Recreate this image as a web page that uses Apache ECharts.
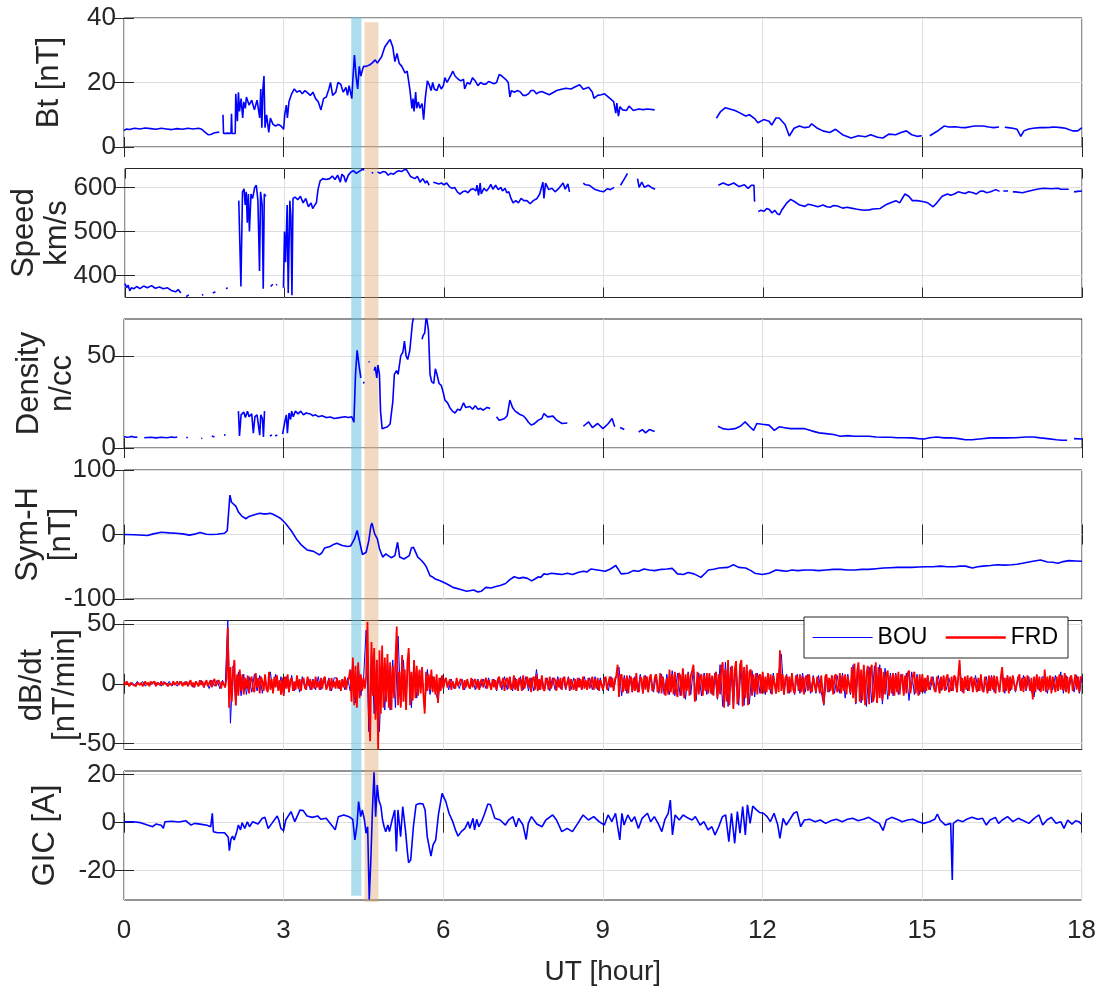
<!DOCTYPE html>
<html><head><meta charset="utf-8">
<script src="https://cdn.jsdelivr.net/npm/echarts@6/dist/echarts.min.js"></script>
<style>html,body{margin:0;padding:0;background:#fff}#c{width:1099px;height:991px}</style>
</head><body><div id="c"></div><script>
// ---------------- DATA ----------------
const xTicks = [0, 3, 6, 9, 12, 15, 18];
const btTicks = [0, 20, 40];
const speedTicks = [400, 500, 600];
const densityTicks = [0, 50];
const symhTicks = [-100, 0, 100];
const dbdtTicks = [-50, 0, 50];
const gicTicks = [-20, 0, 20];
const bandHours = [[4.27, 4.46], [4.52, 4.78]];
const legendNames = ['BOU', 'FRD'];

const bt = [[0,5.1],[0.05,5.6],[0.1,5.4],[0.2,5.8],[0.3,5.6],[0.4,5.9],[0.5,5.7],[0.6,5.5],[0.7,5.8],[0.8,5.6],[0.9,5.4],[1.0,5.7],[1.1,5.5],[1.2,5.8],[1.3,5.6],[1.4,5.8],[1.46,5.5],[1.52,4.6],[1.58,3.8],[1.63,3.9],[1.7,4.4],[1.79,4.6],[1.82,'-'],[1.86,10],[1.87,4.2],[1.95,4.3],[2.01,4.2],[2.02,10.3],[2.03,4.2],[2.09,4.2],[2.1,16.5],[2.13,8],[2.15,17],[2.17,11],[2.2,15],[2.23,9],[2.25,14],[2.28,12],[2.3,15.5],[2.35,13],[2.4,14.5],[2.45,11.5],[2.5,14.5],[2.55,9],[2.57,18],[2.59,6],[2.61,18],[2.63,22],[2.65,6],[2.68,10],[2.72,4.5],[2.75,9],[2.8,7],[2.85,6.5],[2.9,7],[2.95,6.5],[3.0,5.5],[3.02,10],[3.05,13],[3.07,9],[3.1,14],[3.15,16.5],[3.2,18],[3.25,17],[3.3,17.5],[3.35,16.5],[3.4,17.5],[3.45,16.8],[3.5,16],[3.55,17],[3.6,15],[3.65,14],[3.7,11.5],[3.75,15],[3.8,15.5],[3.85,18],[3.88,20],[3.92,16],[3.98,17],[4.02,20],[4.07,19.5],[4.12,17],[4.17,18.5],[4.2,16],[4.23,19],[4.28,15],[4.3,21],[4.33,28.5],[4.36,22],[4.39,18],[4.42,25],[4.45,22],[4.5,25],[4.55,25],[4.62,25.5],[4.66,26],[4.72,27],[4.76,26],[4.79,25.5],[4.84,28],[4.9,31],[4.96,32.5],[5.0,33.3],[5.05,31],[5.09,26.5],[5.13,29],[5.17,26],[5.22,25],[5.28,23],[5.32,23.5],[5.37,18],[5.41,12],[5.43,15],[5.45,11],[5.48,17],[5.5,12],[5.53,14],[5.56,12],[5.6,13.5],[5.63,8.5],[5.66,15],[5.7,20.5],[5.73,19.5],[5.77,17.5],[5.8,20],[5.83,18],[5.88,17.5],[5.92,19.5],[5.96,18],[6.0,19],[6.03,21.5],[6.07,20],[6.1,21],[6.15,22.5],[6.18,23.5],[6.22,22],[6.28,21],[6.33,20.5],[6.38,21],[6.4,18],[6.45,20],[6.5,19.5],[6.55,21.5],[6.6,20.5],[6.65,19],[6.7,20],[6.75,19.5],[6.8,19.5],[6.85,20.3],[6.9,20],[6.95,19.6],[7.0,20],[7.05,22.5],[7.1,22],[7.17,21],[7.22,20],[7.25,15.5],[7.28,17.5],[7.33,17],[7.4,17.5],[7.45,17],[7.5,16],[7.55,16],[7.6,16.5],[7.65,17.5],[7.7,17.5],[7.75,16.5],[7.8,17],[7.85,17.2],[7.99,16.2],[8.13,17.5],[8.2,17.8],[8.3,18.2],[8.4,18],[8.46,18.5],[8.56,19.3],[8.63,17.9],[8.73,18.5],[8.8,17],[8.83,15.1],[8.9,16],[8.97,16.2],[9.03,16.5],[9.13,15.1],[9.2,14.1],[9.24,10.5],[9.26,13.6],[9.29,9.6],[9.32,12.5],[9.37,11.5],[9.44,11.3],[9.49,12.7],[9.57,11.3],[9.67,11.8],[9.75,11.6],[9.84,11.8],[9.97,11.5],[10.0,'-'],[11.13,8.9],[11.21,11],[11.3,12.2],[11.38,11.8],[11.48,11.3],[11.58,10.5],[11.68,9.6],[11.75,10],[11.85,8.8],[11.91,7.5],[12.02,8.5],[12.12,8],[12.17,6.8],[12.25,9],[12.31,9],[12.42,7],[12.5,3.4],[12.59,5.8],[12.69,6.5],[12.79,6],[12.87,6.2],[12.92,7.2],[13.03,5.8],[13.13,5],[13.26,4.5],[13.37,5.5],[13.5,3.8],[13.66,2.8],[13.8,3.5],[13.93,3.2],[14.03,3.8],[14.16,3],[14.26,2.8],[14.37,4],[14.5,3.8],[14.6,4.5],[14.7,5],[14.8,3.8],[14.9,3.3],[14.99,3.5],[15.05,'-'],[15.14,3.5],[15.27,4.8],[15.41,6.5],[15.5,6.2],[15.61,6.3],[15.7,6.1],[15.81,6],[15.9,6.3],[15.98,6.5],[16.14,6.5],[16.25,6.2],[16.34,6],[16.44,6.2],[16.5,'-'],[16.55,6.1],[16.61,6],[16.7,5.8],[16.78,5.5],[16.85,3.3],[16.91,5],[17.0,5.6],[17.08,5.8],[17.2,6],[17.28,6],[17.4,6.1],[17.48,6.2],[17.6,6],[17.69,5.8],[17.82,5],[17.92,5],[18,6]];

const speed = [[0,382],[0.03,372],[0.06,378],[0.09,365],[0.12,372],[0.17,370],[0.22,375],[0.28,370],[0.35,376],[0.42,372],[0.5,377],[0.57,371],[0.65,374],[0.72,370],[0.8,372],[0.87,366],[0.95,363],[1.0,368],[1.05,360],[1.08,'-'],[1.15,352],[1.2,356],[1.22,'-'],[1.45,355],[1.47,357],[1.5,'-'],[1.65,360],[1.7,363],[1.72,'-'],[1.9,370],[1.93,372],[1.96,'-'],[2.14,570],[2.18,375],[2.21,590],[2.24,597],[2.26,560],[2.28,590],[2.3,520],[2.32,585],[2.34,500],[2.37,585],[2.4,575],[2.44,600],[2.47,605],[2.5,570],[2.53,410],[2.55,590],[2.58,560],[2.6,370],[2.62,585],[2.65,580],[2.67,'-'],[2.74,375],[2.78,380],[2.8,'-'],[2.84,378],[2.86,380],[2.9,'-'],[2.98,372],[3.0,500],[3.02,430],[3.05,560],[3.07,360],[3.1,570],[3.12,535],[3.14,355],[3.16,575],[3.2,578],[3.25,572],[3.3,580],[3.35,565],[3.4,575],[3.45,556],[3.5,565],[3.53,552],[3.57,560],[3.6,565],[3.63,595],[3.67,615],[3.72,620],[3.78,618],[3.85,620],[3.9,626],[3.95,618],[4.0,628],[4.05,612],[4.08,630],[4.12,625],[4.15,612],[4.2,628],[4.25,635],[4.3,638],[4.35,632],[4.4,636],[4.45,640],[4.5,640],[4.53,'-'],[4.64,633],[4.67,634],[4.7,'-'],[4.75,635],[4.8,632],[4.85,636],[4.9,635],[4.95,628],[5.0,632],[5.05,630],[5.1,635],[5.15,638],[5.2,636],[5.25,640],[5.29,641],[5.33,633],[5.37,625],[5.4,625],[5.45,620],[5.5,625],[5.55,612],[5.6,620],[5.65,610],[5.68,615],[5.72,605],[5.75,'-'],[5.8,612],[5.85,610],[5.9,608],[5.95,610],[6.0,606],[6.05,610],[6.1,602],[6.15,598],[6.2,600],[6.25,590],[6.3,585],[6.35,590],[6.4,592],[6.45,588],[6.5,595],[6.55,597],[6.6,592],[6.62,605],[6.65,582],[6.68,610],[6.7,585],[6.75,598],[6.8,592],[6.85,600],[6.88,607],[6.92,596],[6.97,605],[7.02,595],[7.07,600],[7.1,592],[7.15,598],[7.18,588],[7.22,590],[7.26,575],[7.3,565],[7.35,570],[7.4,565],[7.45,575],[7.5,570],[7.56,570],[7.62,563],[7.68,570],[7.75,575],[7.8,585],[7.86,612],[7.88,575],[7.91,610],[7.97,595],[8.03,598],[8.09,590],[8.16,598],[8.24,610],[8.28,596],[8.33,608],[8.36,590],[8.4,'-'],[8.62,610],[8.66,606],[8.73,605],[8.83,596],[8.93,592],[9.0,590],[9.07,597],[9.13,595],[9.2,600],[9.25,'-'],[9.32,605],[9.37,615],[9.42,625],[9.45,632],[9.48,'-'],[9.64,620],[9.67,600],[9.72,612],[9.77,600],[9.84,605],[9.9,600],[9.97,596],[10.0,'-'],[11.16,605],[11.25,610],[11.35,605],[11.45,610],[11.55,602],[11.65,606],[11.72,598],[11.78,605],[11.83,605],[11.84,570],[11.85,568],[11.87,'-'],[11.91,545],[11.96,548],[12.02,546],[12.07,552],[12.12,550],[12.17,542],[12.22,548],[12.27,540],[12.31,538],[12.35,548],[12.39,555],[12.45,565],[12.52,573],[12.59,568],[12.69,560],[12.79,557],[12.85,562],[12.92,560],[13.03,556],[13.13,560],[13.2,556],[13.26,555],[13.33,559],[13.4,558],[13.5,553],[13.58,555],[13.66,553],[13.75,551],[13.8,550],[13.9,548],[14.0,549],[14.07,551],[14.2,552],[14.3,560],[14.4,565],[14.5,570],[14.57,565],[14.67,585],[14.74,580],[14.81,570],[14.9,570],[15.0,568],[15.1,565],[15.2,556],[15.27,565],[15.37,580],[15.47,585],[15.53,582],[15.6,585],[15.67,590],[15.74,588],[15.8,586],[15.87,590],[15.95,588],[16.01,585],[16.08,591],[16.14,592],[16.21,588],[16.28,590],[16.38,595],[16.45,591],[16.48,'-'],[16.52,592],[16.61,592],[16.65,'-'],[16.7,590],[16.75,590],[16.88,588],[16.95,590],[17.01,592],[17.15,596],[17.28,598],[17.42,597],[17.55,598],[17.6,596],[17.69,596],[17.75,596],[17.8,'-'],[17.85,590],[17.92,591],[18.0,592]];

const density = [[0,6.2],[0.05,5.8],[0.1,6.0],[0.15,6.3],[0.2,5.8],[0.25,5.9],[0.28,'-'],[0.38,5.6],[0.5,5.8],[0.6,5.5],[0.7,5.8],[0.8,5.6],[0.9,6.0],[0.95,5.7],[1.0,6.0],[1.05,'-'],[1.17,5.8],[1.2,5.6],[1.23,'-'],[1.45,5.1],[1.47,5.3],[1.5,'-'],[1.65,6.5],[1.7,6.0],[1.73,'-'],[1.88,7],[1.91,7.2],[1.94,'-'],[2.15,20],[2.17,6.5],[2.2,18],[2.25,19.5],[2.28,16.5],[2.32,20],[2.35,17],[2.4,18.5],[2.43,8],[2.46,17],[2.5,18],[2.55,7],[2.57,18],[2.6,16],[2.62,6],[2.64,20],[2.66,'-'],[2.74,6.5],[2.78,7],[2.8,'-'],[2.84,6.5],[2.88,7],[2.9,'-'],[2.98,7.5],[3.0,8],[3.02,14],[3.05,18],[3.07,8],[3.1,19],[3.13,15.5],[3.15,20],[3.18,17],[3.22,20],[3.27,18.5],[3.32,20],[3.37,18],[3.42,19],[3.5,18.5],[3.55,17.5],[3.6,18],[3.65,17],[3.72,17.5],[3.8,16.5],[3.88,16.8],[3.95,16],[4.05,16.5],[4.15,17],[4.22,16.5],[4.28,17],[4.32,14],[4.35,40],[4.38,53],[4.42,44],[4.45,38],[4.47,'-'],[4.5,36],[4.51,35],[4.52,'-'],[4.6,47],[4.61,46.5],[4.62,'-'],[4.7,42],[4.72,44],[4.75,38],[4.77,45],[4.8,40],[4.82,20],[4.85,10.5],[4.9,11],[4.95,11.5],[5.0,13],[5.05,25],[5.08,40],[5.12,42],[5.15,40],[5.2,50],[5.24,52],[5.27,58],[5.3,50],[5.33,48],[5.37,53],[5.42,68],[5.45,72],[5.5,78],[5.55,'-'],[5.6,59],[5.62,61],[5.65,62.5],[5.68,72],[5.72,64],[5.75,40],[5.78,36],[5.82,35],[5.85,43],[5.88,40],[5.92,35],[5.96,34],[6.0,30],[6.03,26],[6.08,24.5],[6.12,22],[6.17,20],[6.22,19],[6.27,21],[6.32,20.5],[6.38,24.5],[6.42,22],[6.5,22.5],[6.55,21],[6.6,23],[6.65,21],[6.7,21.5],[6.75,20.5],[6.82,22],[6.88,21.5],[6.91,'-'],[7.0,17],[7.05,15],[7.1,15.5],[7.15,16],[7.2,17.5],[7.25,26],[7.3,22],[7.35,20],[7.4,19],[7.45,18],[7.5,17.5],[7.55,16],[7.6,14],[7.65,12.5],[7.7,13],[7.78,15],[7.85,16],[7.89,18.7],[7.96,16.9],[8.06,17.3],[8.13,15.1],[8.23,13.3],[8.33,13.6],[8.36,'-'],[8.63,11.8],[8.73,14.2],[8.8,11.1],[8.9,13.3],[9.0,10.5],[9.1,13.3],[9.17,16],[9.22,11.5],[9.26,'-'],[9.32,11.1],[9.4,10],[9.43,'-'],[9.67,8.7],[9.74,10],[9.8,8.2],[9.87,10],[9.97,8.9],[10.0,'-'],[11.16,11.8],[11.25,10.5],[11.35,10],[11.48,10.5],[11.58,11.8],[11.67,14.2],[11.75,11.8],[11.83,9.6],[11.89,13.3],[11.99,12.9],[12.12,12.4],[12.22,9.6],[12.31,11.5],[12.39,11.1],[12.52,10.5],[12.65,10.5],[12.79,10.5],[12.92,9.3],[13.06,8.2],[13.19,7.8],[13.33,7.3],[13.46,6.4],[13.6,6.7],[13.72,6.4],[13.87,6.4],[14.0,6.4],[14.13,6.0],[14.27,5.8],[14.4,5.8],[14.53,5.6],[14.67,5.6],[14.8,5.5],[14.93,5.1],[15.03,4.9],[15.14,5.6],[15.27,6.0],[15.41,5.5],[15.54,5.6],[15.68,5.1],[15.81,4.5],[15.94,4.5],[16.07,4.9],[16.28,5.5],[16.41,5.6],[16.55,5.5],[16.75,5.6],[16.95,6],[17.08,6],[17.22,5.5],[17.35,5.1],[17.52,4.5],[17.62,4.2],[17.72,4.2],[17.76,'-'],[17.85,5.1],[18.0,4.9]];

const symh = [[0,0],[0.2,-0.5],[0.44,-1.5],[0.55,1],[0.7,3.6],[0.85,2.5],[0.97,2],[1.1,1],[1.23,-1],[1.35,1],[1.43,3],[1.55,0.5],[1.63,0],[1.75,0.5],[1.89,2],[1.94,6],[1.99,61],[2.02,50],[2.05,53],[2.1,44],[2.15,35],[2.22,28],[2.29,24.4],[2.35,28],[2.42,30],[2.55,33],[2.62,32],[2.68,32],[2.75,33],[2.81,31],[2.88,28],[2.95,24.4],[3.04,16.6],[3.14,6.2],[3.24,-6.8],[3.34,-17],[3.44,-24],[3.5,-25],[3.57,-26.5],[3.67,-31.7],[3.72,-28],[3.77,-20.8],[3.87,-18.7],[3.95,-15],[4.0,-13.5],[4.1,-17],[4.2,-18.7],[4.26,-17.7],[4.33,-6.8],[4.38,6.2],[4.43,-12],[4.48,-31],[4.55,-27.5],[4.6,-9.4],[4.64,14],[4.66,17.7],[4.71,1],[4.76,-6.8],[4.8,-22],[4.86,-35],[4.92,-30],[4.97,-33],[5.02,-36],[5.09,-32.7],[5.14,-12],[5.18,-35],[5.26,-38],[5.36,-32.7],[5.4,-20.8],[5.44,-20],[5.52,-35],[5.58,-39.5],[5.63,-44],[5.68,-50],[5.75,-64],[5.8,-66],[5.85,-69],[5.95,-72],[6.05,-76],[6.12,-79],[6.18,-82],[6.31,-85],[6.44,-88],[6.57,-86],[6.65,-89],[6.71,-88],[6.8,-82],[6.9,-83],[6.97,-81],[7.07,-79],[7.17,-76],[7.25,-70],[7.33,-65.5],[7.42,-68],[7.5,-66.5],[7.58,-68],[7.66,-72],[7.72,-69],[7.79,-65.5],[7.83,-66.5],[7.89,-61],[7.95,-62],[8.03,-60],[8.13,-61],[8.23,-62],[8.33,-60],[8.43,-62],[8.53,-59],[8.63,-57],[8.7,-58],[8.77,-53.5],[8.9,-55],[9.04,-57],[9.14,-53.5],[9.24,-48],[9.28,-53],[9.34,-61],[9.47,-60],[9.57,-56],[9.67,-57],[9.77,-53.5],[9.87,-55],[9.97,-56],[10.1,-54],[10.2,-53.5],[10.3,-52.5],[10.4,-61],[10.51,-62],[10.6,-59],[10.71,-61],[10.84,-66.5],[10.92,-60],[10.98,-55],[11.08,-54],[11.18,-52],[11.35,-51],[11.45,-47],[11.55,-51],[11.68,-52],[11.78,-56],[11.85,-60],[11.99,-62],[12.12,-60],[12.25,-55],[12.35,-56],[12.45,-57],[12.55,-55],[12.66,-56],[12.8,-55],[12.92,-55],[13.05,-56],[13.19,-55],[13.33,-54],[13.46,-54],[13.6,-55],[13.73,-55],[13.86,-54],[13.99,-54],[14.13,-53],[14.27,-52],[14.4,-51.5],[14.53,-51],[14.67,-51],[14.8,-51],[14.93,-50.5],[15.07,-50],[15.2,-50],[15.34,-49],[15.47,-50],[15.61,-50],[15.71,-49],[15.81,-49],[15.94,-52],[16.04,-50],[16.14,-49],[16.28,-48],[16.41,-47],[16.55,-47.5],[16.68,-47],[16.78,-46],[16.88,-44.7],[16.98,-43],[17.08,-41.5],[17.22,-39.5],[17.35,-42.6],[17.45,-43],[17.55,-44.7],[17.65,-42],[17.75,-40.5],[17.88,-41],[18.0,-41.5]];

// dB/dt: BOU sampled every 0.05 h, FRD every 0.025 h (one row per hour)
const bouStep = 0.05;
const bouDbdt = [
-1,2,-2,1,-1,2,-1,2,-2,1,-1,2,-2,1,-2,2,-1,2,-2,1,
-2,2,-1,2,-2,1,-3,2,-2,3,-3,2,-4,3,-2,3,-4,3,-3,53,
-33,15,-18,10,-10,8,-9,6,-7,8,-6,7,-8,5,-6,10,-7,8,-5,6,
-10,6,-7,7,-6,4,-7,6,-4,5,-5,4,-5,6,-5,5,-4,5,-6,5,
5,-4,4,-5,5,-6,18,-16,15,-10,4,45,-40,30,-25,20,-40,25,-22,20,
-22,20,-20,40,-18,20,-16,25,-20,18,-12,10,10,-20,12,-9,6,-7,-14,5,
-4,5,-5,4,-4,3,-4,4,-5,3,-4,4,-5,4,-3,4,-4,5,-3,4,
-6,5,-5,6,-5,5,-6,5,-6,6,-5,6,-6,5,-6,12,-5,6,-6,5,
-6,5,-5,6,-4,5,-5,6,-5,5,-6,5,-5,6,-4,5,-5,6,-5,5,
-6,5,-6,6,-5,6,14,-10,7,-8,7,-7,6,-7,8,-8,7,-7,6,-7,
7,-8,8,-9,8,-9,11,-10,9,-10,12,-13,10,-9,14,-14,9,-10,9,-9,
8,-9,9,-13,16,-19,18,-19,14,-20,17,-18,19,-18,15,-17,11,-11,9,-8,
9,-9,8,-8,9,-8,9,25,-9,8,-8,7,-9,8,-8,9,-7,8,-8,7,
-8,7,-7,-18,6,-7,7,-8,7,-8,9,-12,8,-9,16,-17,16,-16,15,-19,
14,-16,15,-16,16,-17,13,-13,9,-10,9,-9,8,-9,9,-14,10,-9,8,-9,
7,-8,7,-5,6,-6,7,-6,6,-5,5,-6,6,-7,17,-7,6,-6,5,-6,
7,-6,6,-7,6,-6,7,-7,6,-7,12,-8,7,-6,6,-7,6,-6,7,-6,
6,-7,-11,7,-6,6,5,-8,6,-5,7,-6,10,-8,7,-6,6,-7,7,-8,
6];
const frdStep = 0.025;
const frdDbdt = [
1,-1,2,0,-2,1,2,-1,0,-2,1,2,-1,1,-2,0,2,-1,1,-2,2,0,-1,2,-2,1,0,-1,2,-1,-2,1,2,-2,0,1,-1,2,-1,0,
2,-1,0,2,-2,1,-1,2,-2,1,3,-2,1,-3,2,0,-2,3,-1,2,-3,1,3,-2,-1,3,-3,2,4,-2,-3,3,1,-4,2,3,-3,4,47,-20,
14,-15,10,20,-18,8,-10,12,-6,8,-9,5,-4,7,-8,3,6,-5,-7,9,-3,5,-8,6,2,-6,8,-4,-7,10,-5,4,-8,6,-3,7,-6,3,-9,5,
-10,6,-4,8,-7,3,5,-6,2,-5,7,-4,4,-6,3,5,-3,-5,6,-2,4,-5,3,-4,6,-3,2,-5,5,-4,3,6,-5,-2,4,-6,5,-3,2,-4,
5,-4,3,-6,4,-3,6,-5,2,5,12,-15,22,-18,15,-20,18,-12,8,-6,5,-4,6,52,-20,-48,35,-10,30,-30,20,-55,28,-25,32,-20,22,-15,25,-20,
18,-22,15,-12,20,48,-18,10,-20,24,-15,12,-22,18,30,-18,10,-14,20,-12,15,-10,12,-8,14,-9,-25,10,-6,8,-5,12,-7,6,-9,8,-16,5,-6,7,
-4,3,5,-3,-2,4,-5,2,3,-4,5,-2,-3,4,2,-5,3,-3,4,-2,-4,5,-3,2,4,-4,3,-5,2,4,-3,-2,5,-4,3,2,-5,4,-3,3,
-5,4,6,-3,-4,5,-6,3,5,-4,6,-5,-3,7,-5,4,-6,5,3,-6,7,-4,-5,6,-3,5,-7,4,6,-5,8,-6,4,-5,7,-4,-6,5,3,-5,
6,-4,-5,5,3,-6,4,-3,5,-5,4,6,-4,-3,5,-6,4,3,-5,4,-6,5,-3,4,-5,6,-4,3,-5,5,-4,-3,6,-5,4,-4,5,-6,3,4,
-5,4,6,-5,-4,6,-3,5,-6,4,7,16,-11,6,8,-7,5,-6,7,-8,4,6,-7,5,-6,9,-5,-7,6,4,-8,7,-5,6,-7,5,8,-6,-4,6,
8,-7,-5,9,-8,6,7,-10,5,-9,12,-7,8,-9,10,-6,-11,9,7,-10,13,-12,8,-6,9,-10,7,11,16,-15,-8,10,-9,6,8,-10,7,-6,9,-8,
9,-8,7,-10,6,10,-12,8,-9,14,18,-20,12,-15,20,-18,9,15,-21,12,19,-17,-10,16,20,-19,14,-12,16,-18,10,12,-10,8,-7,9,-9,6,8,-8,
10,-8,6,-7,9,-5,8,-9,7,6,-8,9,-7,28,-6,8,-9,5,7,-8,6,-7,9,-5,-8,7,5,-6,8,-7,6,-9,5,7,-6,8,-5,-7,6,5,
-7,6,5,-8,7,-6,-17,6,8,-7,5,-6,7,-9,6,8,-7,-5,9,-8,7,-6,8,-9,6,7,-8,14,-12,17,-16,10,18,-15,12,-14,16,-18,9,15,
-17,12,16,-15,-10,18,-16,14,-12,13,-14,10,-9,8,11,-10,7,-8,9,-10,8,-7,10,-9,6,8,-10,7,-8,9,11,-8,-9,7,10,-8,6,-10,8,-7,
8,-7,5,-6,7,-5,-6,6,7,-5,-7,6,5,-8,6,-5,7,-6,5,8,-7,-5,6,-6,7,5,-7,6,20,-6,5,-8,6,-5,7,-6,4,6,-7,5,
6,-7,5,-6,8,-5,-7,6,5,-8,7,-6,6,-5,7,-8,6,5,-7,6,14,-7,5,-6,7,-8,6,-5,7,6,-6,-7,5,8,-6,5,-7,6,-5,7,
7,-6,5,-13,6,-7,8,-5,6,-7,5,-6,12,-7,6,-5,7,-8,6,5,-7,6,-6,8,-5,7,-6,9,-7,6,-8,5,7,-6,-7,8,-5,6,-7,6,
5];

const gic = [[0,0.4],[0.17,0.4],[0.31,0],[0.44,-1],[0.54,-1.7],[0.6,-0.6],[0.7,-1.1],[0.74,-2.4],[0.77,0.4],[0.9,0.6],[1.03,0.3],[1.16,0.8],[1.26,-1],[1.33,-0.3],[1.43,-0.6],[1.56,-1.1],[1.63,-1.7],[1.66,3.9],[1.68,-3.75],[1.76,-4.2],[1.89,-4.2],[1.96,-6.1],[1.98,-11.7],[2.01,-7],[2.04,-5.6],[2.07,-7.2],[2.12,-3.75],[2.15,-1],[2.19,-3],[2.22,0],[2.27,-2.4],[2.32,0.4],[2.36,-1.7],[2.42,0.4],[2.52,-0.6],[2.6,1.8],[2.65,2.2],[2.71,-2.4],[2.78,-0.3],[2.88,2.8],[2.91,1.1],[2.95,-2.4],[3.0,-3.3],[3.04,1.1],[3.14,4.6],[3.21,0.4],[3.31,5.3],[3.37,5],[3.44,2.8],[3.54,2.2],[3.64,2.8],[3.7,1.4],[3.8,1.8],[3.9,-1],[3.97,-3],[4.03,2.5],[4.13,3.2],[4.23,2.5],[4.3,1.4],[4.34,-7.2],[4.38,-1],[4.41,8.75],[4.45,2.5],[4.48,5.3],[4.52,1.1],[4.55,-4.4],[4.58,-1.7],[4.61,-32],[4.64,-15.5],[4.67,5.3],[4.7,21],[4.73,2.5],[4.76,15.7],[4.79,9.4],[4.83,6.7],[4.86,1.1],[4.89,-1.7],[4.92,-3.75],[4.96,-1],[4.99,-3.75],[5.04,1.1],[5.09,5.3],[5.12,-12],[5.15,5.3],[5.2,-5.8],[5.24,6.7],[5.29,-3],[5.33,-12.8],[5.35,-16.7],[5.39,-15.5],[5.44,-1.7],[5.49,7.4],[5.55,8],[5.62,7.8],[5.66,5.3],[5.7,-5.8],[5.77,-13.9],[5.81,-9.3],[5.86,-7.2],[5.91,3.2],[5.98,12.2],[6.05,8.75],[6.11,3.9],[6.18,0.4],[6.23,-3],[6.28,-5.6],[6.34,-3.75],[6.41,-2.4],[6.47,0.4],[6.5,-2.4],[6.56,1.8],[6.59,-3],[6.63,1.4],[6.67,-1.7],[6.72,0.4],[6.77,3.2],[6.84,7.8],[6.89,7.4],[6.97,1.8],[7.07,1.1],[7.17,-1],[7.23,1.1],[7.31,2.5],[7.37,-1.7],[7.42,1.8],[7.5,-1],[7.56,-7],[7.6,-0.3],[7.66,2.5],[7.76,-0.6],[7.86,-1.7],[7.93,1.1],[8.06,3.2],[8.13,1.1],[8.23,-3.75],[8.33,-2.4],[8.43,-3.75],[8.53,-0.3],[8.63,3.2],[8.73,1.1],[8.83,2.5],[8.93,0.4],[9.03,-1],[9.1,3.2],[9.17,0.4],[9.24,3.9],[9.29,-3],[9.32,-7.2],[9.36,3.9],[9.4,-1],[9.47,3.2],[9.54,0.4],[9.6,2.5],[9.67,-2.4],[9.74,1.8],[9.84,3.9],[9.9,0.4],[9.97,2.5],[10.04,-0.3],[10.11,-3.75],[10.17,1.4],[10.23,3.9],[10.27,9.4],[10.31,-5.1],[10.36,3.2],[10.44,1.1],[10.51,3.2],[10.61,1.8],[10.68,1.1],[10.74,2.5],[10.83,-1],[10.9,0.4],[10.98,-3],[11.05,-1.7],[11.11,-5.1],[11.18,-1.7],[11.25,2.5],[11.31,3.2],[11.37,-7.9],[11.42,3.9],[11.48,-8.6],[11.53,4.6],[11.58,-4.4],[11.63,6.7],[11.68,-5.1],[11.72,7.4],[11.77,-0.3],[11.82,6.9],[11.89,5.3],[11.95,4.2],[12.02,3.9],[12.09,2.5],[12.15,0.4],[12.22,3.9],[12.29,-1],[12.33,-6.5],[12.39,1.8],[12.45,-1],[12.52,1.4],[12.59,3.9],[12.65,4.6],[12.72,-1.7],[12.79,1.1],[12.89,1.4],[12.99,0.4],[13.09,1.1],[13.19,-0.3],[13.29,0.8],[13.39,1.4],[13.5,0.4],[13.6,1.4],[13.7,1.8],[13.8,0.8],[13.9,1.4],[14.0,2.2],[14.1,0.8],[14.2,-0.3],[14.27,-3.3],[14.33,1.1],[14.43,2.2],[14.53,1.4],[14.63,0.4],[14.73,1.1],[14.83,1.4],[14.93,0.4],[15.03,-0.3],[15.14,0.4],[15.24,1.4],[15.29,3.6],[15.34,1.1],[15.44,-1],[15.54,-0.3],[15.57,-23.9],[15.59,-0.3],[15.67,1.1],[15.77,0.4],[15.84,1.4],[15.94,2.2],[16.05,1.4],[16.14,1.8],[16.21,-1],[16.28,1.1],[16.38,2.2],[16.44,-0.3],[16.51,1.1],[16.61,2.5],[16.71,0.4],[16.81,1.8],[16.91,0.8],[17.01,-0.3],[17.11,1.8],[17.2,3.2],[17.27,-1],[17.35,1.1],[17.43,2.2],[17.52,-0.3],[17.61,0.4],[17.67,-2.4],[17.74,1.1],[17.82,-0.6],[17.89,0.8],[17.95,0.4],[18.0,-0.6]];

// ---------------- LAYOUT / STYLE ----------------
const FONT = "'Liberation Sans', Arial, Helvetica, sans-serif";
const TXT = '#262626';
const LEFT = 124, RIGHT = 17, PH = 129;
const TOPS = [18, 168.5, 319, 470, 620.5, 771];
const panels = [
  {name: 'Bt [nT]',          min: 0,     max: 40,  ticks: btTicks,      nameGap: 58},
  {name: 'Speed\nkm/s',      min: 350,   max: 643, ticks: speedTicks,   nameGap: 51},
  {name: 'Density\nn/cc',    min: 0,     max: 70,  ticks: densityTicks, nameGap: 45},
  {name: 'Sym-H\n[nT]',      min: -100,  max: 100, ticks: symhTicks,    nameGap: 46},
  {name: 'dB/dt\n[nT/min]',  min: -55,   max: 53,  ticks: dbdtTicks,    nameGap: 42},
  {name: 'GIC [A]',          min: -32.2, max: 21.5,ticks: gicTicks,     nameGap: 62}
];

const grids = [], xAxes = [], yAxes = [];
const tickStyle = {show: true, inside: true, length: 10, lineStyle: {color: TXT, width: 1}};
panels.forEach((p, i) => {
  const last = i === panels.length - 1;
  grids.push({left: LEFT, right: RIGHT, top: TOPS[i], height: PH, show: true,
    borderColor: TXT, borderWidth: 1, backgroundColor: '#fff'});
  xAxes.push({type: 'value', gridIndex: i, min: xTicks[0], max: xTicks[xTicks.length - 1], interval: 3,
    position: 'bottom', axisLine: {show: false}, axisTick: tickStyle,
    axisLabel: {show: last, fontSize: 26, color: TXT, margin: 18, fontFamily: FONT},
    splitLine: {show: true, lineStyle: {color: '#dedede', width: 1}},
    name: last ? 'UT [hour]' : '', nameLocation: 'middle', nameGap: 58, nameMoveOverlap: false,
    nameTextStyle: {fontSize: 28, color: TXT, fontFamily: FONT}});
  xAxes.push({type: 'value', gridIndex: i, min: xTicks[0], max: xTicks[xTicks.length - 1], interval: 3,
    position: 'top', axisLine: {show: false}, axisTick: tickStyle,
    axisLabel: {show: false}, splitLine: {show: false}});
  yAxes.push({type: 'value', gridIndex: i, min: p.min, max: p.max, position: 'left',
    axisLine: {show: false},
    axisTick: Object.assign({}, tickStyle, {customValues: p.ticks}),
    axisLabel: {customValues: p.ticks, fontSize: 26, color: TXT, margin: 8, fontFamily: FONT},
    splitLine: {show: true, customValues: p.ticks, lineStyle: {color: '#dedede', width: 1}},
    name: p.name, nameLocation: 'middle', nameGap: p.nameGap, nameMoveOverlap: false,
    nameTextStyle: {fontSize: 31, lineHeight: 33, color: TXT, fontFamily: FONT}});
  yAxes.push({type: 'value', gridIndex: i, min: p.min, max: p.max, position: 'right',
    axisLine: {show: false},
    axisTick: Object.assign({}, tickStyle, {customValues: p.ticks}),
    axisLabel: {show: false}, splitLine: {show: false}});
});
// overlay coordinate system spanning all panels (for the highlight bands)
grids.push({left: LEFT, right: RIGHT, top: 17, height: 885, show: false});
xAxes.push({type: 'value', gridIndex: 6, min: 0, max: 18, show: false});
yAxes.push({type: 'value', gridIndex: 6, min: 0, max: 1, show: false});

const toPairs = (vals, step) => vals.map((v, i) => [Math.round(i * step * 1000) / 1000, v]);
const lineSeries = (name, data, idx, color, width, z) => ({
  name, type: 'line', data, xAxisIndex: idx * 2, yAxisIndex: idx * 2,
  symbol: 'none', showSymbol: false, clip: true, z: z || 2,
  lineStyle: {color, width}, itemStyle: {color}, animation: false
});

const series = [
  lineSeries('Bt', bt, 0, '#0000ff', 1.6),
  lineSeries('Speed', speed, 1, '#0000ff', 1.6),
  lineSeries('Density', density, 2, '#0000ff', 1.6),
  lineSeries('Sym-H', symh, 3, '#0000ff', 1.6),
  lineSeries(legendNames[0], toPairs(bouDbdt, bouStep), 4, '#0000ff', 1.0, 2),
  lineSeries(legendNames[1], toPairs(frdDbdt, frdStep), 4, '#ff0000', 1.8, 3),
  lineSeries('GIC', gic, 5, '#0000ff', 1.6),
  {type: 'line', xAxisIndex: 12, yAxisIndex: 12, data: [], z: 20, silent: true,
    markArea: {silent: true, data: [
      [{xAxis: bandHours[0][0], yAxis: 0.007, itemStyle: {color: 'rgba(100,190,222,0.52)'}},
       {xAxis: bandHours[0][1], yAxis: 1}],
      [{xAxis: bandHours[1][0], yAxis: 0, itemStyle: {color: 'rgba(222,168,108,0.42)'}},
       {xAxis: bandHours[1][1], yAxis: 0.994}]
    ]}}
];

const chart = echarts.init(document.getElementById('c'), null, {renderer: 'canvas'});
chart.setOption({
  animation: false,
  backgroundColor: '#fff',
  grid: grids, xAxis: xAxes, yAxis: yAxes, series,
  legend: {
    left: 804, top: 617, orient: 'horizontal', padding: [9, 10, 9, 8], itemGap: 17,
    itemWidth: 60, itemHeight: 14, borderColor: TXT, borderWidth: 1, borderRadius: 0,
    backgroundColor: '#fff', z: 30,
    textStyle: {fontSize: 23, color: '#000', fontFamily: FONT},
    data: [
      {name: legendNames[0], lineStyle: {width: 1.2, color: '#0000ff'}, itemStyle: {opacity: 0}},
      {name: legendNames[1], lineStyle: {width: 2.6, color: '#ff0000'}, itemStyle: {opacity: 0}}
    ]
  }
});
</script></body></html>
